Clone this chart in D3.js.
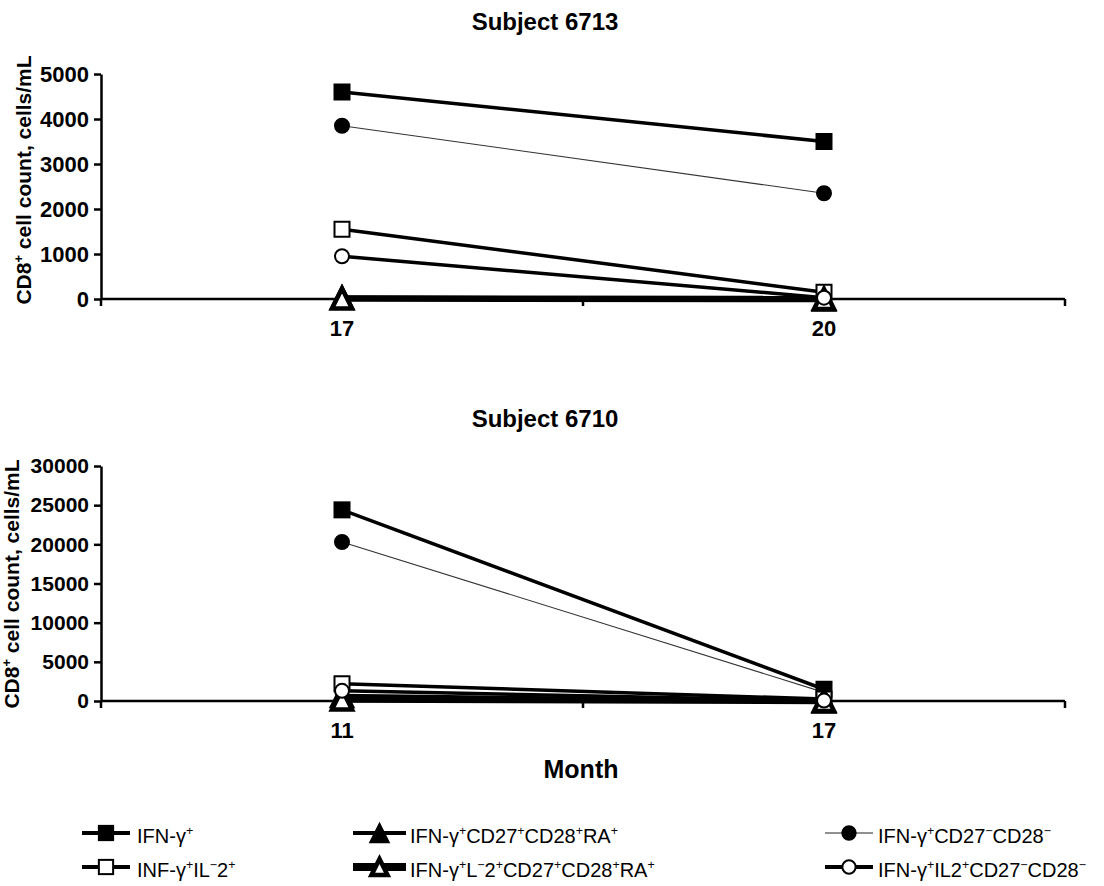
<!DOCTYPE html>
<html><head><meta charset="utf-8">
<script src="https://cdn.jsdelivr.net/npm/d3@7"></script>
<style>body{margin:0;background:#fff} svg{display:block}</style>
</head><body><svg id="c" width="1104" height="886"></svg>
<script>
// ---------- data ----------
const months6713 = ["17", "20"];
const months6710 = ["11", "17"];
const yTicks6713 = [0, 1000, 2000, 3000, 4000, 5000];
const yTicks6710 = [0, 5000, 10000, 15000, 20000, 25000, 30000];
const seriesLabels = [
  "IFN-γ^+",
  "IFN-γ^+CD27^+CD28^+RA^+",
  "IFN-γ^+CD27^-CD28^-",
  "INF-γ^+IL^-2^+",
  "IFN-γ^+L^-2^+CD27^+CD28^+RA^+",
  "IFN-γ^+IL2^+CD27^-CD28^-"
];
// Subject 6713 (months 17, 20)
const ifng_6713          = [4600, 3500];
const ifngCD27pRA_6713   = [40, 0];
const ifngCD27n_6713     = [3850, 2350];
const ifngIL2_6713       = [1550, 150];
const ifngIL2CD27pRA_6713= [10, 0];
const ifngIL2CD27n_6713  = [950, 30];
// Subject 6710 (months 11, 17)
const ifng_6710          = [24400, 1500];
const ifngCD27pRA_6710   = [700, 0];
const ifngCD27n_6710     = [20300, 1100];
const ifngIL2_6710       = [2200, 250];
const ifngIL2CD27pRA_6710= [200, 0];
const ifngIL2CD27n_6710  = [1300, 50];

// ---------- styles ----------
const FONT = "'Liberation Sans', Arial, Helvetica, sans-serif";
const styles = [
  {marker: "square",   fill: "#000", lw: 3.5, size: 15, color: "#000"},
  {marker: "triangle", fill: "#000", lw: 3.5, size: 24, color: "#000"},
  {marker: "circle",   fill: "#000", lw: 1.1, size: 14, color: "#333"},
  {marker: "square",   fill: "#fff", lw: 3.5, size: 15, color: "#000"},
  {marker: "triangle", fill: "#fff", lw: 6.5, size: 20, color: "#000"},
  {marker: "circle",   fill: "#fff", lw: 3.5, size: 14, color: "#000"}
];

const svg = d3.select("#c");

function drawMarker(g, st, cx, cy, k) {
  const s = st.size * (k || 1);
  if (st.marker === "square") {
    g.append("rect").attr("x", cx - s / 2).attr("y", cy - s / 2)
      .attr("width", s).attr("height", s)
      .attr("fill", st.fill).attr("stroke", "#000").attr("stroke-width", 2);
  } else if (st.marker === "circle") {
    g.append("circle").attr("cx", cx).attr("cy", cy).attr("r", s / 2)
      .attr("fill", st.fill).attr("stroke", "#000").attr("stroke-width", 2);
  } else {
    g.append("path")
      .attr("d", `M${cx},${cy - s / 2}L${cx + s / 2},${cy + s / 2}L${cx - s / 2},${cy + s / 2}Z`)
      .attr("fill", st.fill).attr("stroke", "#000")
      .attr("stroke-linejoin", "miter")
      .attr("stroke-width", st.fill === "#fff" ? 4.5 : 1.5);
  }
}

function richText(t, str, fs) {
  const parts = str.split(/(\^[+\-])/);
  const shift = fs * 0.38;
  let cur = 0;
  parts.forEach(p => {
    if (!p) return;
    if (p[0] === "^") {
      t.append("tspan").attr("font-size", fs * 0.62).attr("dy", -shift - cur)
        .text(p[1] === "-" ? "−" : "+");
      cur = -shift;
    } else {
      t.append("tspan").attr("font-size", fs).attr("dy", -cur).text(p);
      cur = 0;
    }
  });
}

const X0 = 101, X1 = 1065;

function panel(cfg) {
  const g = svg.append("g");
  const x = d3.scaleBand().domain(cfg.cats).range([X0, X1]).padding(0);
  const y = d3.scaleLinear().domain([0, cfg.ticks[cfg.ticks.length - 1]])
    .range([cfg.yBottom, cfg.yTop]);

  // title
  g.append("text").attr("x", 545).attr("y", cfg.titleY)
    .attr("text-anchor", "middle").attr("font-family", FONT)
    .attr("font-weight", "bold").attr("font-size", 24).text(cfg.title);

  // y axis
  const ya = g.append("g").attr("transform", `translate(${X0},0)`)
    .call(d3.axisLeft(y).tickValues(cfg.ticks).tickSize(7).tickSizeOuter(0).tickPadding(5)
      .tickFormat(d3.format("d")));
  ya.selectAll("path,line").attr("stroke", "#000").attr("stroke-width", 2.5);
  ya.selectAll("text").attr("font-family", FONT).attr("font-weight", "bold")
    .attr("font-size", cfg.tickFs).attr("fill", "#000");

  // x axis
  const xa = g.append("g").attr("transform", `translate(0,${cfg.yBottom})`)
    .call(d3.axisBottom(x).tickSize(0).tickPadding(0));
  xa.select(".domain").remove();
  xa.selectAll("text").attr("font-family", FONT).attr("font-weight", "bold")
    .attr("font-size", 22).attr("fill", "#000").attr("dy", null).attr("y", 37);
  g.append("line").attr("x1", X0).attr("x2", X1)
    .attr("y1", cfg.yBottom).attr("y2", cfg.yBottom)
    .attr("stroke", "#000").attr("stroke-width", 2.5);
  const edges = [x.range()[0]].concat(cfg.cats.map(c => x(c) + x.bandwidth()));
  g.selectAll(".edge").data(edges).join("line")
    .attr("x1", d => d).attr("x2", d => d)
    .attr("y1", cfg.yBottom).attr("y2", cfg.yBottom + 7)
    .attr("stroke", "#000").attr("stroke-width", 2.5);

  // y axis title
  const yt = g.append("text").attr("transform", `translate(${cfg.yTitleX},${cfg.yTitleY}) rotate(-90)`)
    .attr("text-anchor", "middle").attr("font-family", FONT)
    .attr("font-weight", "bold").attr("fill", "#000");
  richText(yt, "CD8^+ cell count, cells/mL", 21);

  // series
  const cx = c => x(c) + x.bandwidth() / 2;
  const line = d3.line().x((d, i) => cx(cfg.cats[i])).y(d => y(d));
  cfg.series.forEach((vals, i) => {
    const st = styles[i];
    g.append("path").attr("d", line(vals)).attr("fill", "none")
      .attr("stroke", st.color).attr("stroke-width", st.lw);
  });
  cfg.series.forEach((vals, i) => {
    vals.forEach((v, j) => drawMarker(g, styles[i], cx(cfg.cats[j]), y(v)));
  });
}

panel({
  title: "Subject 6713", titleY: 30, cats: months6713, ticks: yTicks6713, tickFs: 22,
  yBottom: 299, yTop: 74, yTitleX: 31, yTitleY: 180,
  series: [ifng_6713, ifngCD27pRA_6713, ifngCD27n_6713, ifngIL2_6713, ifngIL2CD27pRA_6713, ifngIL2CD27n_6713]
});
panel({
  title: "Subject 6710", titleY: 427, cats: months6710, ticks: yTicks6710, tickFs: 21,
  yBottom: 701, yTop: 466, yTitleX: 19, yTitleY: 584,
  series: [ifng_6710, ifngCD27pRA_6710, ifngCD27n_6710, ifngIL2_6710, ifngIL2CD27pRA_6710, ifngIL2CD27n_6710]
});

// x axis title
svg.append("text").attr("x", 581).attr("y", 778).attr("text-anchor", "middle")
  .attr("font-family", FONT).attr("font-weight", "bold").attr("font-size", 25).text("Month");

// legend
const legCols = [{x1: 82, x2: 130, tx: 137}, {x1: 353, x2: 406, tx: 410}, {x1: 825, x2: 873, tx: 878}];
const legRows = [833, 867];
const legLW = [4, 4, 1.2, 4, 8, 4];
seriesLabels.forEach((lab, i) => {
  const col = legCols[i % 3], ry = legRows[Math.floor(i / 3)];
  const st = styles[i];
  const lg = svg.append("g");
  lg.append("line").attr("x1", col.x1).attr("x2", col.x2).attr("y1", ry).attr("y2", ry)
    .attr("stroke", st.color === "#333" ? "#222" : "#000").attr("stroke-width", legLW[i]);
  drawMarker(lg, st, (col.x1 + col.x2) / 2, ry, st.marker === "triangle" ? 0.8 : 0.95);
  const t = svg.append("text").attr("x", col.tx).attr("y", ry + 9.5)
    .attr("font-family", FONT).attr("fill", "#000");
  richText(t, lab, 20);
});
</script></body></html>
